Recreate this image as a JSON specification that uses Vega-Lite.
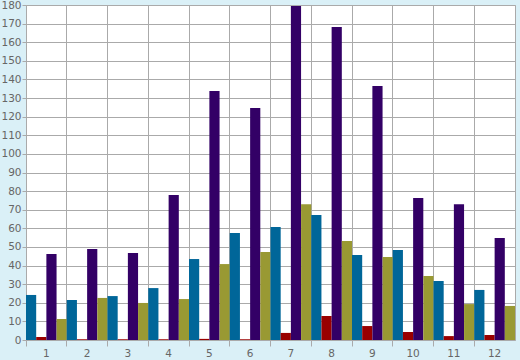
{
  "$schema": "https://vega.github.io/schema/vega-lite/v6.json",
  "autosize": {"type": "none"},
  "padding": {"left": 26, "top": 5, "right": 5, "bottom": 20},
  "width": 489,
  "height": 335,
  "background": "#daf0f7",
  "config": {
    "view": {"fill": "#ffffff", "stroke": "#aaaaaa", "strokeWidth": 1},
    "axis": {"labelFont": "DejaVu Sans", "labelFontSize": 10.5, "labelColor": "#666666", "gridColor": "#aaaaaa", "tickColor": "#aaaaaa", "gridOpacity": 1, "domain": false, "title": null}
  },
  "data": {"values": [
    {"m": 1, "s": "a", "v": 24.2}, {"m": 1, "s": "b", "v": 1.6}, {"m": 1, "s": "c", "v": 46.2}, {"m": 1, "s": "d", "v": 11.3},
    {"m": 2, "s": "a", "v": 21.5}, {"m": 2, "s": "b", "v": 0.4}, {"m": 2, "s": "c", "v": 48.9}, {"m": 2, "s": "d", "v": 22.6},
    {"m": 3, "s": "a", "v": 23.6}, {"m": 3, "s": "b", "v": 0.4}, {"m": 3, "s": "c", "v": 46.7}, {"m": 3, "s": "d", "v": 19.9},
    {"m": 4, "s": "a", "v": 27.9}, {"m": 4, "s": "b", "v": 0.4}, {"m": 4, "s": "c", "v": 77.9}, {"m": 4, "s": "d", "v": 22.0},
    {"m": 5, "s": "a", "v": 43.5}, {"m": 5, "s": "b", "v": 0.6}, {"m": 5, "s": "c", "v": 133.8}, {"m": 5, "s": "d", "v": 40.8},
    {"m": 6, "s": "a", "v": 57.5}, {"m": 6, "s": "b", "v": 0.4}, {"m": 6, "s": "c", "v": 124.7}, {"m": 6, "s": "d", "v": 47.3},
    {"m": 7, "s": "a", "v": 60.7}, {"m": 7, "s": "b", "v": 3.8}, {"m": 7, "s": "c", "v": 179.5}, {"m": 7, "s": "d", "v": 73.0},
    {"m": 8, "s": "a", "v": 67.2}, {"m": 8, "s": "b", "v": 12.9}, {"m": 8, "s": "c", "v": 168.2}, {"m": 8, "s": "d", "v": 53.2},
    {"m": 9, "s": "a", "v": 45.7}, {"m": 9, "s": "b", "v": 7.5}, {"m": 9, "s": "c", "v": 136.5}, {"m": 9, "s": "d", "v": 44.6},
    {"m": 10, "s": "a", "v": 48.4}, {"m": 10, "s": "b", "v": 4.3}, {"m": 10, "s": "c", "v": 76.3}, {"m": 10, "s": "d", "v": 34.4},
    {"m": 11, "s": "a", "v": 31.7}, {"m": 11, "s": "b", "v": 2.1}, {"m": 11, "s": "c", "v": 73.0}, {"m": 11, "s": "d", "v": 19.3},
    {"m": 12, "s": "a", "v": 26.9}, {"m": 12, "s": "b", "v": 2.7}, {"m": 12, "s": "c", "v": 54.8}, {"m": 12, "s": "d", "v": 18.3}
  ]},
  "mark": {"type": "bar"},
  "encoding": {
    "x": {
      "field": "m", "type": "ordinal",
      "scale": {"paddingInner": 0, "paddingOuter": 0},
      "axis": {"labelAngle": 0, "bandPosition": 0, "grid": true, "tickSize": 6, "labelPadding": 2}
    },
    "xOffset": {"field": "s", "type": "nominal", "scale": {"paddingInner": 0, "paddingOuter": 0}, "sort": ["a", "b", "c", "d"]},
    "y": {
      "field": "v", "type": "quantitative",
      "scale": {"domain": [0, 180], "nice": false},
      "axis": {"values": [0, 10, 20, 30, 40, 50, 60, 70, 80, 90, 100, 110, 120, 130, 140, 150, 160, 170, 180], "tickSize": 4, "labelPadding": 1, "grid": true}
    },
    "color": {
      "field": "s", "type": "nominal",
      "scale": {"domain": ["a", "b", "c", "d"], "range": ["#006699", "#990000", "#330066", "#999933"]},
      "legend": null
    }
  }
}
